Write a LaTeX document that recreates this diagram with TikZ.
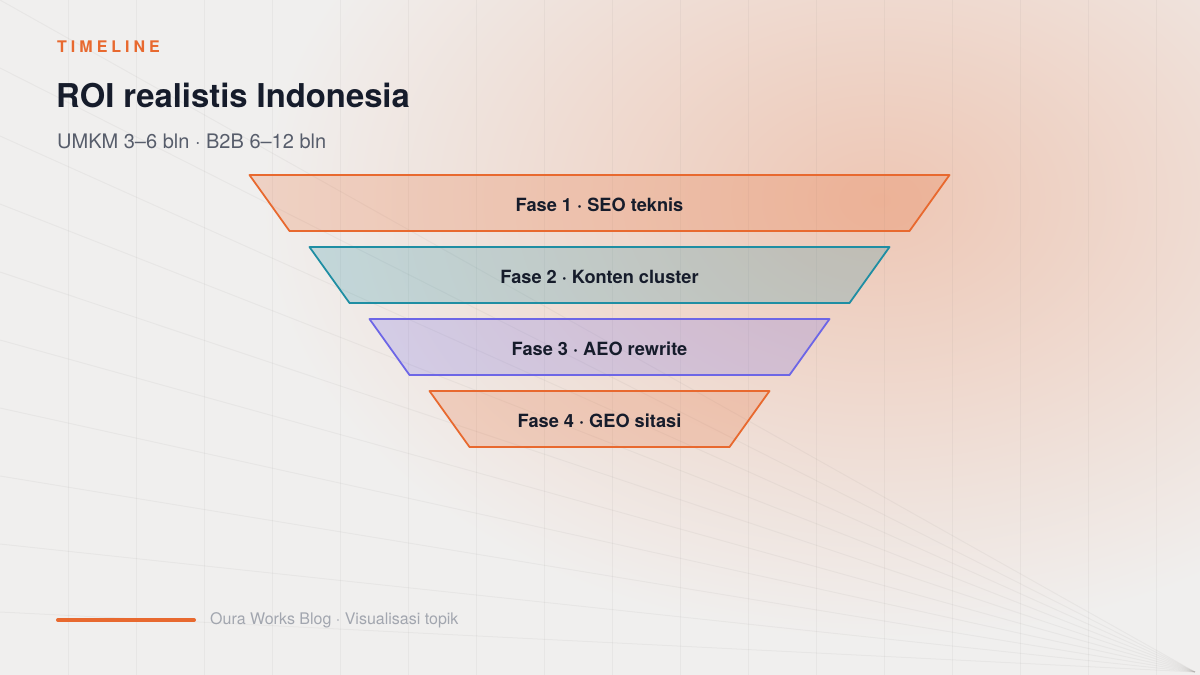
\documentclass[tikz,border=0pt]{standalone}
\usepackage{fontspec}
\setmainfont{TeX Gyre Heros}
\usetikzlibrary{positioning}
\definecolor{paper}{HTML}{F0EFEE}
\definecolor{gridline}{HTML}{7A7672}
\definecolor{ink}{HTML}{161C2B}
\definecolor{slate}{HTML}{575D6B}
\definecolor{muted}{HTML}{A2A6AF}
\definecolor{accent}{HTML}{E8692F}
\definecolor{teal}{HTML}{1F8EA3}
\definecolor{violet}{HTML}{6D66E6}

\begin{document}
\begin{tikzpicture}[x=1pt,y=-1pt,font=\small]
  \useasboundingbox (0,0) rectangle (1200,675);
  \fill[paper] (0,0) rectangle (1200,675);
  % warm glow behind the funnel
  \begin{scope}
    \clip (0,0) rectangle (1200,675);
    \shade[inner color=accent!30!paper,outer color=paper] (880,200) ellipse (620pt and 440pt);
  \end{scope}
  % faint grid and rays
  \foreach \gx in {68,136,...,1156}
    \draw[gridline,opacity=0.07,line width=1pt] (\gx,0) -- (\gx,675);
  \foreach \gy in {0,68,...,612}
    \draw[gridline,opacity=0.07,line width=1pt] (0,\gy) -- (1195,672);

  \node[anchor=base west,inner sep=0,text=accent,font=\fontsize{16}{19}\selectfont\bfseries\addfontfeatures{LetterSpace=25}] (kicker) at (57,52) {TIMELINE};
  \node[anchor=base west,inner sep=0,text=ink,font=\fontsize{32.8}{38}\selectfont\bfseries] (title) at (56,107) {ROI realistis Indonesia};
  \node[anchor=base west,inner sep=0,text=slate,font=\fontsize{20}{24}\selectfont] (subtitle) at (57,148) {UMKM 3--6 bln · B2B 6--12 bln};

  \foreach \i/\lab/\c in {1/{Fase 1 · SEO teknis}/accent, 2/{Fase 2 · Konten cluster}/teal, 3/{Fase 3 · AEO rewrite}/violet, 4/{Fase 4 · GEO sitasi}/accent}{
    \pgfmathsetmacro\ytop{175+72*(\i-1)}
    \pgfmathsetmacro\hw{350-60*(\i-1)}
    \draw[\c,line width=1.8pt,line join=round,fill=\c,fill opacity=0.22] (599.5-\hw,\ytop) -- (599.5+\hw,\ytop) -- (559.5+\hw,\ytop+56) -- (639.5-\hw,\ytop+56) -- cycle;
    \node[anchor=base,inner sep=0,text=ink,font=\fontsize{18.2}{22}\selectfont\bfseries] (fase\i) at (599.5,\ytop+36.7) {\lab};
  }

  \coordinate (rule-a) at (58,620);
  \coordinate (rule-b) at (194,620);
  \draw[accent,line width=4pt,line cap=round] (rule-a) -- (rule-b);
  \node[right=16pt of rule-b,inner sep=0,text=muted,font=\fontsize{16}{19}\selectfont] (footer) {Oura Works Blog · Visualisasi topik};
\end{tikzpicture}
\end{document}
